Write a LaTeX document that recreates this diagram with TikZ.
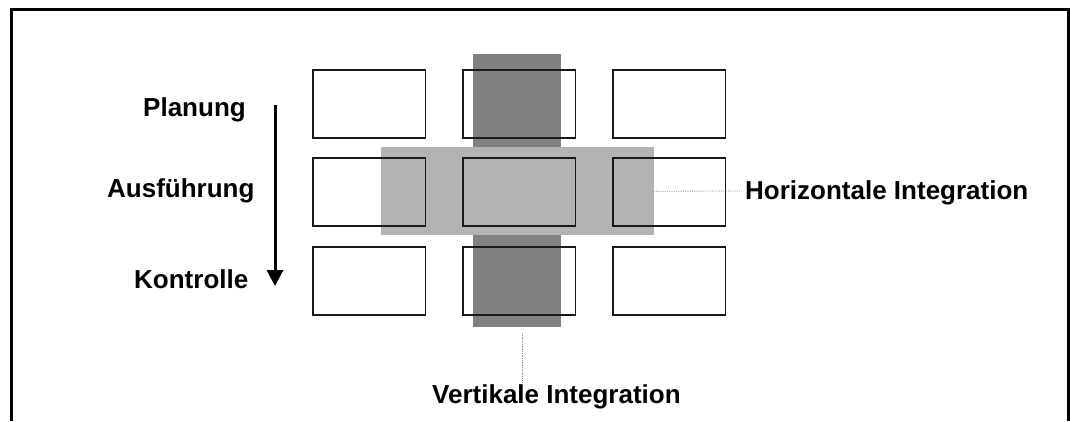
\documentclass[tikz,border=0pt]{standalone}
\usepackage{fontspec}
\setmainfont{Liberation Sans}
\usetikzlibrary{arrows.meta}
\definecolor{darkbar}{RGB}{128,128,128}
\definecolor{lightbar}{RGB}{179,179,179}
\definecolor{dotgray}{RGB}{140,140,140}
\begin{document}
\begin{tikzpicture}[x=1pt,y=-1pt,
  lbl/.style={font=\bfseries\fontsize{26}{31}\selectfont, inner sep=0pt, anchor=base west},
  cell/.style={draw=black!90, line width=1.5pt, minimum width=112.5pt, minimum height=68pt, inner sep=0pt, anchor=north west},
  bar/.style={inner sep=0pt, anchor=north west, draw=none},
  dotline/.style={draw=dotgray, densely dotted, line width=0.8pt}]
\useasboundingbox (0,0) rectangle (1070,421);
% frame
\draw[line width=3pt] (11,421) -- (11,9) -- (1068,9) -- (1068,421);
% bars
\node[bar, fill=darkbar, minimum width=88pt, minimum height=273pt] (vbar) at (473,54) {};
\node[bar, fill=lightbar, minimum width=273pt, minimum height=88pt] (hbar) at (381,147) {};
% boxes
\node[cell] (b11) at (312,69) {};
\node[cell] (b12) at (462,69) {};
\node[cell] (b13) at (612,69) {};
\node[cell] (b21) at (312,157) {};
\node[cell] (b22) at (462,157) {};
\node[cell] (b23) at (612,157) {};
\node[cell] (b31) at (312,246) {};
\node[cell] (b32) at (462,246) {};
\node[cell] (b33) at (612,246) {};
% left labels
\node[lbl] (plan) at (143,116) {Planung};
\node[lbl] (ausf) at (107,197) {Ausführung};
\node[lbl] (kontr) at (134,288) {Kontrolle};
\coordinate (atop) at (275,105);
\coordinate (abot) at (275,286);
\draw[line width=3pt, -{Triangle[width=16pt,length=16pt]}] (atop) -- (abot);
% right / bottom labels
\node[lbl] (hint) at (745,199) {Horizontale Integration};
\node[lbl] (vint) at (432,403) {Vertikale Integration};
\coordinate (hend) at (743,191);
\coordinate (vtop) at (522,333);
\coordinate (vend) at (522,383);
\draw[dotline] (hbar.east) -- (hend);
\draw[dotline] (vtop) -- (vend);
\end{tikzpicture}
\end{document}
